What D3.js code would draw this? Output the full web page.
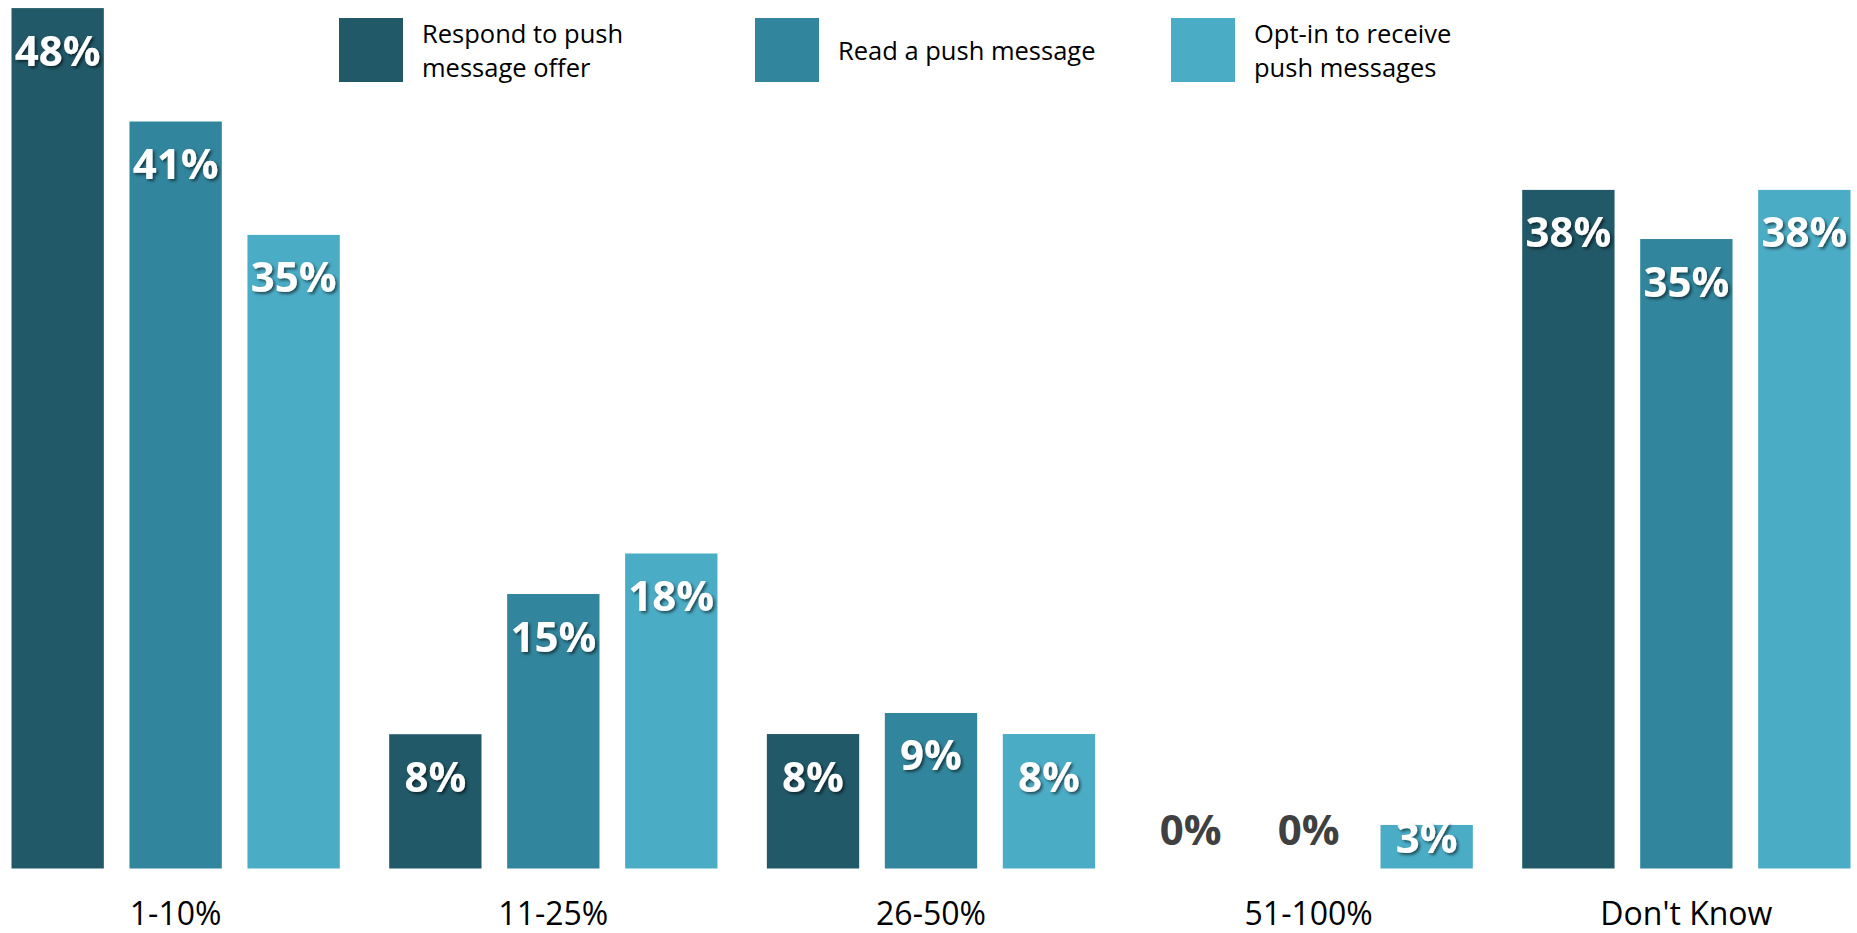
<!DOCTYPE html>
<html>
<head>
<meta charset="utf-8">
<script src="https://cdn.jsdelivr.net/npm/d3@7"></script>
<style>
  html, body { margin: 0; padding: 0; background: #ffffff; }
  svg { display: block; }
</style>
</head>
<body>
<script>
// ---- data ----
const categories = ["1-10%", "11-25%", "26-50%", "51-100%", "Don't Know"];
const seriesNames = ["Respond to push message offer", "Read a push message", "Opt-in to receive push messages"];
const legendLines = [["Respond to push", "message offer"], ["Read a push message"], ["Opt-in to receive", "push messages"]];
const seriesColors = ["#215968", "#31859C", "#4BACC6"];
// values
const respondValues = [47.8, 7.46, 7.47, 0, 37.7];
const readValues    = [41.5, 15.25, 8.64, 0, 34.97];
const optinValues   = [35.2, 17.5, 7.47, 2.42, 37.7];
// displayed data labels
const respondLabels = ["48%", "8%", "8%", "0%", "38%"];
const readLabels    = ["41%", "15%", "9%", "0%", "35%"];
const optinLabels   = ["35%", "18%", "8%", "3%", "38%"];

const seriesValues = [respondValues, readValues, optinValues];
const seriesLabels = [respondLabels, readLabels, optinLabels];

const W = 1857, H = 933;
const baseY = 868.5;

const svg = d3.select("body").append("svg").attr("width", W).attr("height", H);

const defs = svg.append("defs");
const f = defs.append("filter").attr("id", "shadow").attr("x", "-20%").attr("y", "-20%").attr("width", "140%").attr("height", "140%");
f.append("feDropShadow").attr("dx", 2).attr("dy", 2).attr("stdDeviation", 1.4)
  .attr("flood-color", "#000").attr("flood-opacity", 0.55);

const x0 = d3.scaleBand().domain(categories).range([11.5, 1850.5]).paddingInner(0.1308).paddingOuter(0);
const x1 = d3.scaleBand().domain(d3.range(seriesNames.length)).range([0, x0.bandwidth()]).paddingInner(0.2174).paddingOuter(0);
const y = d3.scaleLinear().domain([0, 48]).range([baseY, baseY - 48 * 18]);

const rows = [];
categories.forEach((c, ci) => {
  seriesNames.forEach((s, si) => {
    rows.push({ cat: c, si, value: seriesValues[si][ci], label: seriesLabels[si][ci] });
  });
});

const g = svg.append("g");
g.selectAll("rect.bar").data(rows).join("rect")
  .attr("class", "bar")
  .attr("x", d => x0(d.cat) + x1(d.si))
  .attr("y", d => y(d.value))
  .attr("width", x1.bandwidth())
  .attr("height", d => y(0) - y(d.value))
  .attr("fill", d => seriesColors[d.si]);

g.selectAll("text.lbl").data(rows).join("text")
  .attr("class", "lbl")
  .attr("x", d => x0(d.cat) + x1(d.si) + x1.bandwidth() / 2)
  .attr("y", d => d.value === 0 ? y(0) - 24 : Math.min(y(d.value) + 57.5, y(0) - 15.5))
  .attr("text-anchor", "middle")
  .attr("font-family", "'Open Sans', sans-serif")
  .attr("font-weight", "bold")
  .attr("font-size", 42)
  .attr("fill", d => d.value === 0 ? "#404040" : "#ffffff")
  .attr("filter", d => d.value === 0 ? null : "url(#shadow)")
  .text(d => d.label);

// x axis
const axis = svg.append("g").attr("transform", `translate(0,${baseY})`)
  .call(d3.axisBottom(x0).tickSize(0).tickPadding(0));
axis.select(".domain").remove();
axis.selectAll("text")
  .attr("dy", null)
  .attr("y", 56)
  .attr("font-family", "'Open Sans', sans-serif")
  .attr("font-size", 32)
  .attr("fill", "#000");

// legend
const leg = svg.append("g");
const legX = d3.scaleLinear().domain([0, 1]).range([339, 755]);
seriesNames.forEach((s, i) => {
  const lx = legX(i);
  const item = leg.append("g");
  item.append("rect").attr("x", lx).attr("y", 18).attr("width", 64).attr("height", 64).attr("fill", seriesColors[i]);
  const lines = legendLines[i];
  const lh = 34.4;
  const startY = 60 - (lines.length - 1) * lh / 2;
  const t = item.append("text")
    .attr("font-family", "'Open Sans', sans-serif")
    .attr("font-size", 25.5)
    .attr("fill", "#000");
  lines.forEach((ln, k) => {
    t.append("tspan").attr("x", lx + 83).attr("y", startY + k * lh).text(ln);
  });
});
</script>
</body>
</html>
